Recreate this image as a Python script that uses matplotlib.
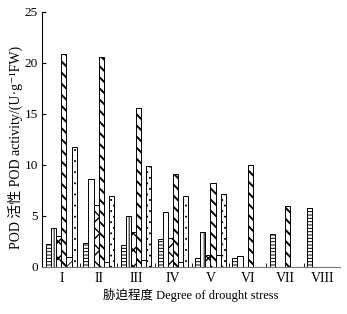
import matplotlib
matplotlib.use("Agg")
import matplotlib.pyplot as plt
import numpy as np

groups = ["I", "II", "III", "IV", "V", "VI", "VII", "VIII"]
horiz = [2.2, 2.3, 2.1, 2.7, 0.9, 0.9, 3.2, 5.8]
vert = [3.8, 8.6, 5.0, 5.4, 3.4, 1.1, 0, 0]
chevron = [3.0, 6.1, 3.4, 2.8, 1.2, 0, 0, 0]
diag = [20.9, 20.6, 15.6, 9.1, 8.2, 10.0, 6.0, 0]
cross = [1.0, 0.5, 0.7, 0.5, 1.2, 0, 0, 0]
dotted = [11.8, 7.0, 9.9, 7.0, 7.1, 0, 0, 0]

plt.rcParams["font.family"] = ["Liberation Serif", "Noto Sans CJK SC", "DejaVu Serif"]
plt.rcParams["hatch.linewidth"] = 0.8

fig = plt.figure(figsize=(3.47, 3.14), dpi=100)
ax = fig.add_axes([0.121, 0.150, 0.859, 0.812])

x = np.arange(len(groups))
w = 0.137
series = [(horiz, "-----", 0.7), (vert, "||", 0.7), (chevron, "xx", 1.0),
          (diag, "\\\\\\", 1.4), (cross, "x", 0.6), (dotted, "...", 0.6)]
for i, (vals, hatch, hlw) in enumerate(series):
    bars = ax.bar(x + (i - 2.5) * w, vals, w, facecolor="white",
                  edgecolor="black", linewidth=0.7, hatch=hatch)
    for b in bars:
        b.set_hatch_linewidth(hlw)

ax.set_xlim(-0.52, 7.48)
ax.set_ylim(0, 25)
ax.set_yticks([0, 5, 10, 15, 20, 25])
ax.set_xticks(x)
ax.set_xticklabels(groups)
ax.set_xticks(x[:-1] + 0.5, minor=True)
ax.tick_params(axis="x", which="major", length=0, labelsize=10, pad=4)
ax.tick_params(axis="x", which="minor", length=3, direction="in")
ax.tick_params(axis="y", direction="in", length=3, labelsize=9.5, pad=3)
ax.spines["top"].set_visible(False)
ax.spines["right"].set_visible(False)
ax.spines["bottom"].set_color("#777777")
ax.spines["left"].set_linewidth(0.8)

ax.set_xlabel("胁迫程度 Degree of drought stress", fontsize=9, labelpad=2)
ax.set_ylabel("POD 活性 POD activity/(U·g⁻¹FW)", fontsize=10)
ax.yaxis.set_label_coords(-0.065, 0.47)

fig.savefig("out.png", dpi=100)
